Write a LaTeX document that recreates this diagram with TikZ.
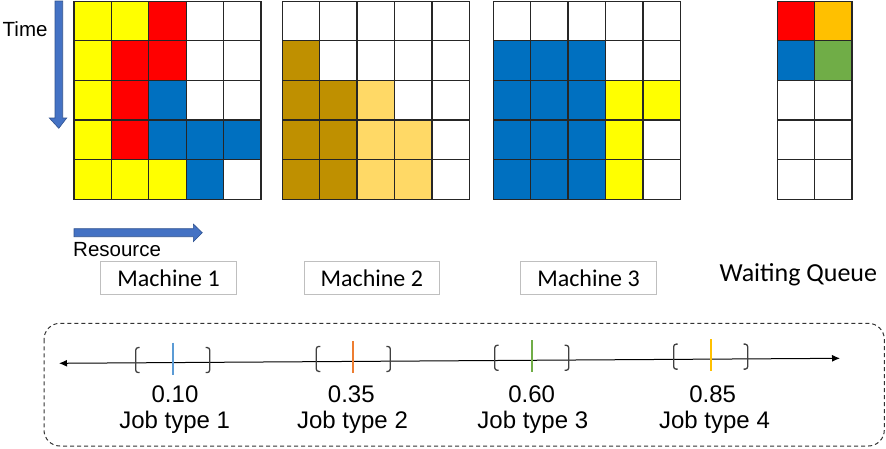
\documentclass[tikz,border=0pt]{standalone}
\usepackage{fontspec}
\setmainfont{Liberation Sans}
\newfontfamily\boxfont{Carlito}
\usetikzlibrary{arrows.meta,calc}
\definecolor{jy}{HTML}{FFFF00}
\definecolor{jr}{HTML}{FF0000}
\definecolor{jb}{HTML}{0070C0}
\definecolor{jd}{HTML}{BF9000}
\definecolor{jl}{HTML}{FFD966}
\definecolor{jo}{HTML}{FFC000}
\definecolor{jg}{HTML}{70AD47}
\definecolor{arrowblue}{HTML}{4472C4}
\definecolor{arrowedge}{HTML}{2F528F}
\definecolor{tickblue}{HTML}{5B9BD5}
\definecolor{tickorange}{HTML}{ED7D31}
\definecolor{tickgreen}{HTML}{70AD47}
\definecolor{tickamber}{HTML}{FFC000}
\begin{document}
\begin{tikzpicture}[x=1pt,y=-1pt,
  cell/.style={draw=black!85,line width=1.3pt},
  blockarrow/.style={fill=arrowblue,draw=arrowedge,line width=0.6pt},
  machinebox/.style={draw=black!25,line width=0.8pt,minimum width=135.6pt,minimum height=32.3pt,inner sep=0pt,font=\boxfont\fontsize{24}{28}\selectfont},
  axislabel/.style={font=\fontsize{20.5}{24}\selectfont,inner sep=0pt,anchor=base west},
  joblabel/.style={font=\fontsize{24}{28}\selectfont,inner sep=0pt,anchor=base},
  tickmark/.style={line width=2pt},
  brk/.style={draw=black!75,line width=1.3pt,rounded corners=2.5pt}]
\useasboundingbox (0,0) rectangle (886,448);

\begin{scope}[shift={(74,1.2)}]
\foreach \row [count=\r from 0] in {{jy,jy,jr,white,white},{jy,jr,jr,white,white},{jy,jr,jb,white,white},{jy,jr,jb,jb,jb},{jy,jy,jy,jb,white}}
  \foreach \col [count=\c from 0] in \row
    \draw[cell,fill=\col] (\c*37.4,\r*39.6) rectangle ++(37.4,39.6);
\end{scope}

\begin{scope}[shift={(282.3,1.2)}]
\foreach \row [count=\r from 0] in {{white,white,white,white,white},{jd,white,white,white,white},{jd,jd,jl,white,white},{jd,jd,jl,jl,white},{jd,jd,jl,jl,white}}
  \foreach \col [count=\c from 0] in \row
    \draw[cell,fill=\col] (\c*37.4,\r*39.6) rectangle ++(37.4,39.6);
\end{scope}

\begin{scope}[shift={(493.3,1.2)}]
\foreach \row [count=\r from 0] in {{white,white,white,white,white},{jb,jb,jb,white,white},{jb,jb,jb,jy,jy},{jb,jb,jb,jy,white},{jb,jb,jb,jy,white}}
  \foreach \col [count=\c from 0] in \row
    \draw[cell,fill=\col] (\c*37.4,\r*39.6) rectangle ++(37.4,39.6);
\end{scope}

\begin{scope}[shift={(777.3,1.2)}]
\foreach \row [count=\r from 0] in {{jr,jo},{jb,jg},{white,white},{white,white},{white,white}}
  \foreach \col [count=\c from 0] in \row
    \draw[cell,fill=\col] (\c*37.4,\r*39.6) rectangle ++(37.4,39.6);
\end{scope}

\draw[blockarrow] (55,1) -- (62.7,1) -- (62.7,118) -- (66.7,118) -- (58.8,128.3) -- (49.3,118) -- (55,118) -- cycle;
\node[axislabel] (time) at (2.5,36) {Time};

\draw[blockarrow] (74,228.7) -- (193.3,228.7) -- (193.3,224) -- (202.3,232.7) -- (193.3,241.7) -- (193.3,236.7) -- (74,236.7) -- cycle;
\node[axislabel] (resource) at (73,256.7) {Resource};

\node[machinebox] (m1) at (168.5,277.9) {Machine 1};
\node[machinebox] (m2) at (371.8,277.9) {Machine 2};
\node[machinebox] (m3) at (588.5,277.9) {Machine 3};
\node[font=\boxfont\fontsize{26}{30}\selectfont,inner sep=0pt,anchor=base west] (queue) at (719.3,281.7) {Waiting Queue};

\draw[black!80,line width=1pt,dash pattern=on 4pt off 3pt,rounded corners=16pt] (44,323.3) rectangle (884.3,446);

\coordinate (lineL) at (59,363.3);
\coordinate (lineR) at (840,358.3);
\draw[line width=1pt,{Latex[length=8pt,width=7pt]}-{Latex[length=8pt,width=7pt]}] (lineL) -- (lineR);

\foreach \k/\pos/\tickcol in {1/0.1456/tickblue,2/0.3768/tickorange,3/0.6053/tickgreen,4/0.8344/tickamber} {
  \coordinate (k\k) at ($(lineL)!\pos!(lineR)$);
  \draw[tickmark,draw=\tickcol] ($(k\k)+(0,-20)$) -- ($(k\k)+(0,12)$);
  \draw[brk] ($(k\k)+(-33,-15)$) -- ($(k\k)+(-37,-15)$) -- ($(k\k)+(-37,10)$) -- ($(k\k)+(-33,10)$);
  \draw[brk] ($(k\k)+(33,-15)$) -- ($(k\k)+(37,-15)$) -- ($(k\k)+(37,10)$) -- ($(k\k)+(33,10)$);
}

\node[joblabel] (v1) at (175,402.7) {0.10};
\node[joblabel] (t1) at (174.7,428.3) {Job type 1};
\node[joblabel] (v2) at (351.3,402.7) {0.35};
\node[joblabel] (t2) at (352.5,428.3) {Job type 2};
\node[joblabel] (v3) at (531.7,402.7) {0.60};
\node[joblabel] (t3) at (532.8,428.3) {Job type 3};
\node[joblabel] (v4) at (712.7,402.7) {0.85};
\node[joblabel] (t4) at (714.5,428.3) {Job type 4};
\end{tikzpicture}
\end{document}
